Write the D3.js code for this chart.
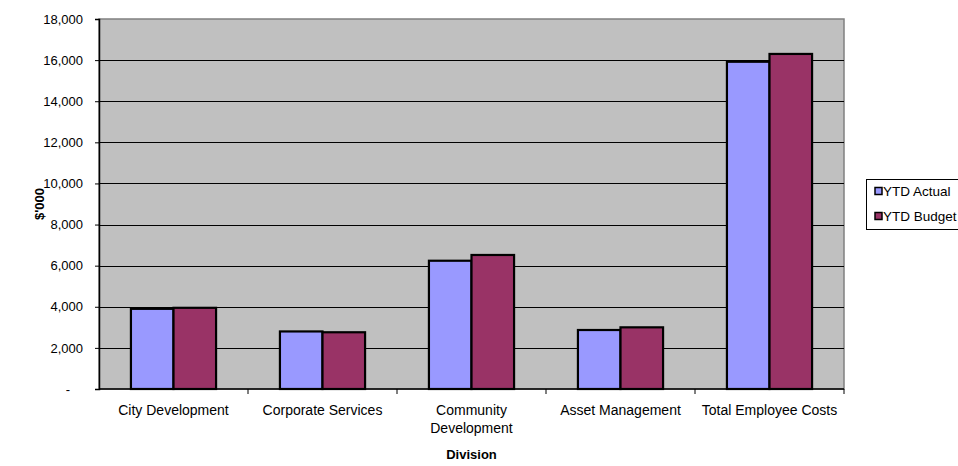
<!DOCTYPE html>
<html>
<head>
<meta charset="utf-8">
<script src="https://cdn.jsdelivr.net/npm/d3@7/dist/d3.min.js"></script>
<style>
  html, body { margin: 0; padding: 0; background: #fff; }
  svg { display: block; font-family: "Liberation Sans", Arial, sans-serif; }
</style>
</head>
<body>
<svg id="chart" width="958" height="466"></svg>
<script>
// Employee costs by division, $'000
const categories = ["City Development", "Corporate Services", "Community Development", "Asset Management", "Total Employee Costs"];
const categoryLines = [["City Development"], ["Corporate Services"], ["Community", "Development"], ["Asset Management"], ["Total Employee Costs"]];
const seriesNames = ["YTD Actual", "YTD Budget"];
const ytdActual = [3900, 2800, 6240, 2870, 15920];
const ytdBudget = [3950, 2760, 6520, 3000, 16300];
const yTickValues = [0, 2000, 4000, 6000, 8000, 10000, 12000, 14000, 16000, 18000];
const yTickLabels = ["-", "2,000", "4,000", "6,000", "8,000", "10,000", "12,000", "14,000", "16,000", "18,000"];
const colors = ["#9999FF", "#993366"];

const svg = d3.select("#chart");
const plot = { left: 99, right: 844, top: 19, bottom: 389 };

const x0 = d3.scaleBand().domain(categories).range([plot.left, plot.right]).padding(0);
const x1 = d3.scaleBand().domain(seriesNames).range([0, x0.bandwidth()]).paddingInner(0).paddingOuter(0.75);
const y = d3.scaleLinear().domain([0, 18000]).range([plot.bottom, plot.top]);

// plot area
svg.append("rect")
  .attr("x", plot.left).attr("y", plot.top)
  .attr("width", plot.right - plot.left).attr("height", plot.bottom - plot.top)
  .attr("fill", "#C0C0C0").attr("stroke", "#808080").attr("stroke-width", 1.5);

// gridlines
svg.append("g").selectAll("line")
  .data(yTickValues.filter(v => v > 0 && v < 18000))
  .join("line")
  .attr("x1", plot.left).attr("x2", plot.right)
  .attr("y1", d => Math.round(y(d)) + 0.5).attr("y2", d => Math.round(y(d)) + 0.5)
  .attr("stroke", "#000").attr("stroke-width", 1);

// bars
const rows = categories.map((c, i) => ({ cat: c, values: [ytdActual[i], ytdBudget[i]] }));
const groups = svg.append("g").selectAll("g")
  .data(rows).join("g")
  .attr("transform", d => `translate(${x0(d.cat)},0)`);
groups.selectAll("rect")
  .data(d => d.values.map((v, j) => ({ name: seriesNames[j], v, j })))
  .join("rect")
  .attr("x", d => x1(d.name))
  .attr("y", d => y(d.v))
  .attr("width", x1.bandwidth())
  .attr("height", d => y(0) - y(d.v))
  .attr("fill", d => colors[d.j])
  .attr("stroke", "#000").attr("stroke-width", 2.2);

// y axis
const yAxis = svg.append("g")
  .attr("transform", `translate(${plot.left},0)`)
  .call(d3.axisLeft(y).tickValues(yTickValues)
    .tickFormat((d, i) => yTickLabels[i]).tickSize(4).tickPadding(12));
yAxis.select(".domain").attr("stroke", "#000").attr("stroke-width", 1.5);
yAxis.selectAll(".tick line").attr("stroke", "#000");
yAxis.selectAll(".tick text")
  .attr("font-size", 13).attr("fill", "#000")
  .attr("font-family", "Liberation Sans, Arial, sans-serif")
  .attr("dx", d => d === 0 ? -13 : 0);

// x axis
const xAxis = svg.append("g").attr("transform", `translate(0,${plot.bottom})`);
xAxis.append("line")
  .attr("x1", plot.left).attr("x2", plot.right)
  .attr("y1", 0).attr("y2", 0)
  .attr("stroke", "#000").attr("stroke-width", 1.5);
xAxis.selectAll("line.tk")
  .data(categories).join("line").attr("class", "tk")
  .attr("x1", d => x0(d) + x0.bandwidth()).attr("x2", d => x0(d) + x0.bandwidth())
  .attr("y1", 0).attr("y2", 5)
  .attr("stroke", "#000");
const labels = xAxis.selectAll("text.cat")
  .data(categories).join("text").attr("class", "cat")
  .attr("text-anchor", "middle")
  .attr("font-size", 14)
  .attr("fill", "#000");
labels.each(function(d, i) {
  const t = d3.select(this);
  categoryLines[i].forEach((line, k) => {
    t.append("tspan")
      .attr("x", x0(d) + x0.bandwidth() / 2)
      .attr("y", 26 + k * 18)
      .text(line);
  });
});

// axis titles
svg.append("text")
  .attr("x", (plot.left + plot.right) / 2).attr("y", 459)
  .attr("text-anchor", "middle")
  .attr("font-size", 13).attr("font-weight", "bold")
  .text("Division");
svg.append("text")
  .attr("transform", `translate(44,${(plot.top + plot.bottom) / 2}) rotate(-90)`)
  .attr("text-anchor", "middle")
  .attr("font-size", 13).attr("font-weight", "bold")
  .text("$'000");

// legend
const legend = svg.append("g");
legend.append("rect")
  .attr("x", 866.5).attr("y", 179.5).attr("width", 100).attr("height", 50)
  .attr("fill", "#fff").attr("stroke", "#000").attr("stroke-width", 1);
const items = legend.selectAll("g.item")
  .data(seriesNames).join("g").attr("class", "item")
  .attr("transform", (d, i) => `translate(0,${191 + i * 25})`);
items.append("rect")
  .attr("x", 875).attr("y", -3.5).attr("width", 7).attr("height", 7)
  .attr("fill", (d, i) => colors[i]).attr("stroke", "#000").attr("stroke-width", 1.5);
items.append("text")
  .attr("x", 883).attr("y", 0).attr("dy", "0.35em")
  .attr("font-size", 13.5).attr("fill", "#000")
  .text(d => d);
</script>
</body>
</html>
